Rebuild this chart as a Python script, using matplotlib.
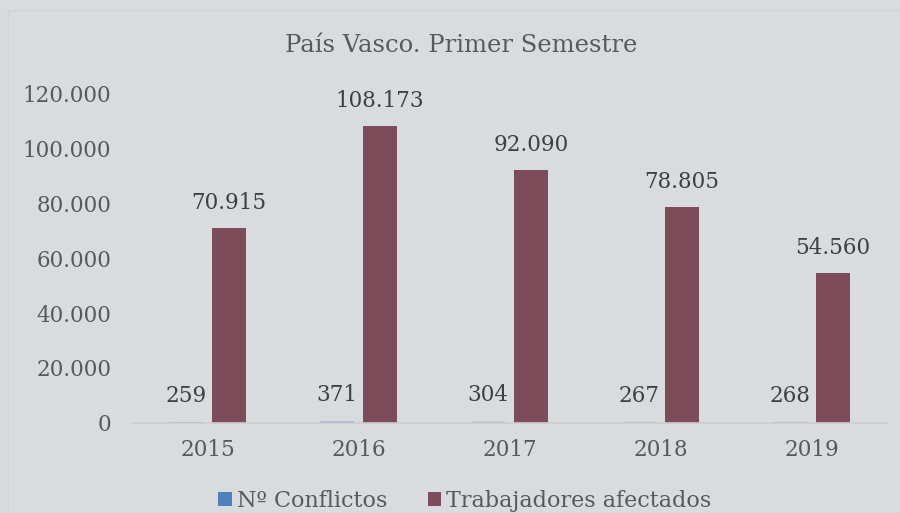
import matplotlib
matplotlib.use("Agg")
import matplotlib.pyplot as plt
import numpy as np
from matplotlib.patches import Rectangle

years = ["2015", "2016", "2017", "2018", "2019"]
conflictos = [259, 371, 304, 267, 268]
trabajadores = [70915, 108173, 92090, 78805, 54560]
yticks = [0, 20000, 40000, 60000, 80000, 100000, 120000]
ytick_labels = ["0", "20.000", "40.000", "60.000", "80.000", "100.000", "120.000"]

def fmt(v):
    return f"{v:,}".replace(",", ".")

BG = "#d9dcdf"
BLUE = "#4f81bd"
RED = "#7d4c5b"
GRAY = "#595959"
DARK = "#404040"

plt.rcParams['font.family'] = ['DejaVu Serif']

fig = plt.figure(figsize=(9, 5.13), dpi=100, facecolor=BG)
# faint border
fig.patches.append(Rectangle((8/900, 0), 1, 1 - 10/513, transform=fig.transFigure,
                             fill=False, edgecolor="#d3d3d3", linewidth=1))

ax = fig.add_axes([132/900, 90.3/513, 755/900, (422.7-94)/513])
ax.set_facecolor(BG)

x = np.arange(len(years))
w = 34/151
off = 21.3/151
b1 = ax.bar(x - off, conflictos, w, color=BLUE, label="Nº Conflictos", snap=False, zorder=0.5)
b2 = ax.bar(x + off, trabajadores, w, color=RED, label="Trabajadores afectados")

for xi, v in zip(x, conflictos):
    ax.annotate(fmt(v), (xi - off, v), xytext=(0, 19), textcoords="offset points",
                ha="center", va="center", fontsize=15.5, color=DARK)
for xi, v in zip(x, trabajadores):
    ax.annotate(fmt(v), (xi + off, v), xytext=(0, 18), textcoords="offset points",
                ha="center", va="center", fontsize=15.5, color=DARK)

ax.set_xlim(-0.5, len(years) - 0.5)
ax.set_ylim(0, 120000)
ax.set_yticks(yticks)
ax.set_yticklabels(ytick_labels)
ax.set_xticks(x)
ax.set_xticklabels(years)
ax.tick_params(axis="both", length=0, labelsize=15.5, labelcolor=GRAY)
ax.tick_params(axis="x", pad=12)
ax.tick_params(axis="y", pad=15)
for s in ["top", "right", "left"]:
    ax.spines[s].set_visible(False)
ax.spines["bottom"].set_color("#d0cccc")
ax.spines["bottom"].set_linewidth(1.2)

fig.text(461/900, 1 - 46/513, "País Vasco. Primer Semestre", ha="center", va="center",
         fontsize=17.5, color=GRAY)

leg = fig.legend(handles=[b1, b2], loc="center", bbox_to_anchor=(465/900, 1 - 501/513),
                 ncol=2, frameon=False, fontsize=16, handlelength=0.6, handleheight=0.6,
                 handletextpad=0.25, columnspacing=1.8, labelcolor=GRAY,
                 borderpad=0, borderaxespad=0)

fig.savefig("out.png", dpi=100, facecolor=BG)
